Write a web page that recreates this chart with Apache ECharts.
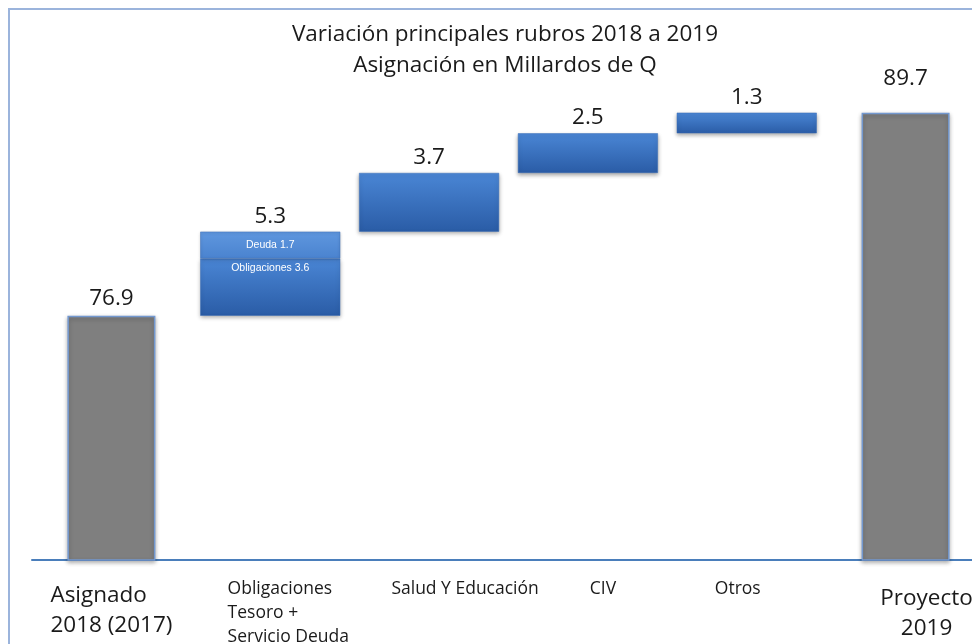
<!DOCTYPE html>
<html>
<head>
<meta charset="utf-8">
<script src="https://cdn.jsdelivr.net/npm/echarts@6/dist/echarts.min.js"></script>
<style>
  html, body { margin: 0; padding: 0; background: #fff; }
  #chart { width: 972px; height: 644px; }
</style>
</head>
<body>
<div id="chart"></div>
<script>
// datos (millardos de Q)
var categorias = ['Asignado\n2018 (2017)', 'Obligaciones\nTesoro +\nServicio Deuda', 'Salud Y Educación', 'CIV', 'Otros', 'Proyecto\n2019'];
var asignado = 76.9;
var proyecto = 89.7;
var variaciones = [5.3, 3.7, 2.5, 1.3];   // Obligaciones, Salud, CIV, Otros
var deuda = 1.7;                          // parte de Obligaciones
var obligaciones = 3.6;

// serie base (invisible) y segmentos de la cascada
var base = ['-'], principal = ['-'], segDeuda = ['-'], totales = ['-'];
var acum = asignado;
variaciones.forEach(function (v, i) {
    base.push(Math.round(acum * 10) / 10);
    if (i === 0) {
        principal.push({
            value: obligaciones,
            label: {show: true, position: 'insideTop', distance: 4, formatter: 'Obligaciones ' + obligaciones, color: '#fff', fontSize: 10.5}
        });
        segDeuda.push({value: deuda});
    } else {
        principal.push(v);
        segDeuda.push('-');
    }
    totales.push(0);
    acum += v;
});
base.push('-'); principal.push('-'); segDeuda.push('-'); totales.push('-');

var grises = [asignado, '-', '-', '-', '-', {value: proyecto, label: {distance: 23}}];

var azul = new echarts.graphic.LinearGradient(0, 0, 0, 1, [
    {offset: 0, color: '#4a86d5'},
    {offset: 1, color: '#2a5ca6'}
]);
var azulClaro = new echarts.graphic.LinearGradient(0, 0, 0, 1, [
    {offset: 0, color: '#5f97df'},
    {offset: 1, color: '#4a83cf'}
]);

var fuente = 'Open Sans';

var myChart = echarts.init(document.getElementById('chart'));

myChart.setOption({
    backgroundColor: '#fff',
    animation: false,
    title: {
        text: 'Variación principales rubros 2018 a 2019\nAsignación en Millardos de Q',
        left: 500,
        textAlign: 'center',
        top: 14,
        textStyle: {
            fontFamily: fuente,
            fontSize: 22.5,
            fontWeight: 'normal',
            lineHeight: 31,
            color: '#1a1a1a'
        }
    },
    graphic: [{
        type: 'rect',
        z: -1,
        shape: {x: 9, y: 9, width: 1000, height: 700},
        style: {fill: 'none', stroke: '#9bb4dc', lineWidth: 2}
    }],
    grid: {
        left: 32,
        right: -13,
        top: 100,
        bottom: 84,
        outerBoundsMode: 'none'
    },
    xAxis: [{
        type: 'category',
        data: categorias,
        axisLine: {lineStyle: {color: '#4a7ebb', width: 2}},
        axisTick: {show: false},
        axisLabel: {
            interval: 0,
            margin: 17,
            fontFamily: fuente,
            color: '#1a1a1a',
            formatter: function (value, idx) {
                var estilos = ['big', 'obl', 'sal', 'civ', 'otr', 'pro'];
                return value.split('\n').map(function (l) {
                    return '{' + estilos[idx] + '|' + l + '}';
                }).join('\n');
            },
            rich: {
                big: {fontFamily: fuente, fontSize: 22.5, lineHeight: 30, align: 'left', color: '#1a1a1a', padding: [8, 0, 0, 0]},
                obl: {fontFamily: fuente, fontSize: 17.5, lineHeight: 24, align: 'left', color: '#1a1a1a', padding: [0, 0, 0, 36]},
                sal: {fontFamily: fuente, fontSize: 17.5, lineHeight: 24, color: '#1a1a1a', padding: [0, 0, 0, 72]},
                civ: {fontFamily: fuente, fontSize: 17.5, lineHeight: 24, color: '#1a1a1a', padding: [0, 0, 0, 30]},
                otr: {fontFamily: fuente, fontSize: 17.5, lineHeight: 24, color: '#1a1a1a', padding: [0, 18, 0, 0]},
                pro: {fontFamily: fuente, fontSize: 22.5, lineHeight: 30, align: 'center', color: '#1a1a1a', padding: [14, 0, 0, 42]}
            }
        }
    }, {
        type: 'category',
        data: categorias,
        show: false
    }],
    yAxis: {
        type: 'value',
        min: 61.5,
        max: 90.5,
        show: false
    },
    series: [
        {
            name: 'Asignado / Proyecto',
            type: 'bar',
            xAxisIndex: 0,
            barWidth: 88,
            data: grises,
            itemStyle: {
                color: '#7f7f7f',
                borderColor: '#7398cf',
                borderWidth: 1.5,
                shadowColor: 'rgba(0,0,0,0.3)',
                shadowBlur: 4,
                shadowOffsetY: 2
            },
            label: {
                show: true,
                position: 'top',
                distance: 6,
                fontFamily: fuente,
                fontSize: 22.5,
                color: '#1a1a1a'
            }
        },
        {
            name: 'base',
            type: 'bar',
            xAxisIndex: 1,
            stack: 'cascada',
            barWidth: 140,
            data: base,
            itemStyle: {color: 'transparent'},
            silent: true
        },
        {
            name: 'variación',
            type: 'bar',
            xAxisIndex: 1,
            stack: 'cascada',
            data: principal,
            itemStyle: {
                color: azul,
                borderColor: '#3b6fb8',
                borderWidth: 0.5,
                shadowColor: 'rgba(0,0,0,0.35)',
                shadowBlur: 4,
                shadowOffsetY: 2
            }
        },
        {
            name: 'Deuda',
            type: 'bar',
            xAxisIndex: 1,
            stack: 'cascada',
            data: segDeuda,
            itemStyle: {
                color: azulClaro,
                borderColor: '#3b6fb8',
                borderWidth: 0.5,
                shadowColor: 'rgba(0,0,0,0.3)',
                shadowBlur: 3,
                shadowOffsetY: 1
            },
            label: {
                show: true,
                position: 'inside',
                formatter: 'Deuda {c}',
                color: '#fff',
                fontSize: 10.5
            }
        },
        {
            name: 'total',
            type: 'bar',
            xAxisIndex: 1,
            stack: 'cascada',
            data: totales,
            itemStyle: {color: 'transparent'},
            label: {
                show: true,
                position: 'top',
                distance: 4,
                fontFamily: fuente,
                fontSize: 22.5,
                color: '#1a1a1a',
                formatter: function (p) {
                    return variaciones[p.dataIndex - 1];
                }
            }
        }
    ]
});
</script>
</body>
</html>
